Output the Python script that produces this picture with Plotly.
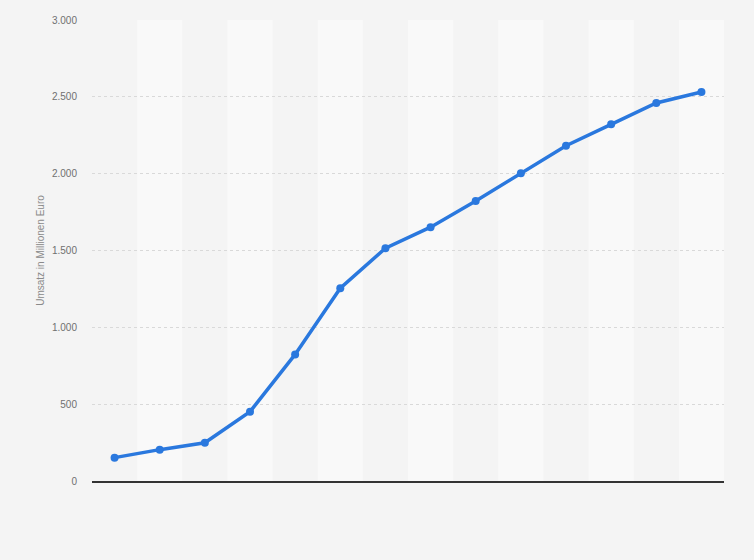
import plotly.graph_objects as go

categories = ["2007", "2008", "2009", "2010", "2011", "2012", "2013",
              "2014", "2015", "2016", "2017", "2018", "2019", "2020"]
values = [152, 204, 249, 451, 824, 1255, 1515, 1652, 1822, 2002, 2182, 2321, 2460, 2531]
y_ticks = [0, 500, 1000, 1500, 2000, 2500, 3000]

fig = go.Figure()

# alternating background bands
shapes = []
for i in range(len(categories)):
    if i % 2 == 1:
        shapes.append(dict(type="rect", xref="x", yref="paper",
                           x0=i - 0.5, x1=i + 0.5, y0=0, y1=1,
                           fillcolor="#f9f9f9", line=dict(width=0), layer="below"))

fig.add_trace(go.Scatter(
    x=categories, y=values, mode="lines+markers",
    line=dict(color="#2a78de", width=3.5),
    marker=dict(color="#2a78de", size=8),
    hoverinfo="x+y", showlegend=False,
))

fig.update_layout(
    width=754, height=560,
    margin=dict(l=84, r=38, t=6, b=87),
    paper_bgcolor="#f4f4f4", plot_bgcolor="#f4f4f4",
    separators=",.",
    shapes=shapes,
    font=dict(family="Liberation Sans, Arial, sans-serif", size=10, color="#707070"),
    xaxis=dict(type="category", showticklabels=False, showgrid=False,
               range=[-0.5, len(categories) - 0.5], zeroline=False,
               showline=True, linecolor="#333333", linewidth=2, ticks=""),
    yaxis=dict(range=[0, 3000], tickvals=y_ticks, tickformat=",d",
               showgrid=True, gridcolor="#d9d9d9", griddash="dot", gridwidth=1,
               zeroline=False, showline=False, ticks="", ticklen=0,
               ticklabelstandoff=14,
               title=dict(text="Umsatz in Millionen Euro", font=dict(size=10, color="#8a8a8a"),
                          standoff=5)),
)

fig.write_html("out.html",
               post_script="document.body.style.background='#f4f4f4';")
